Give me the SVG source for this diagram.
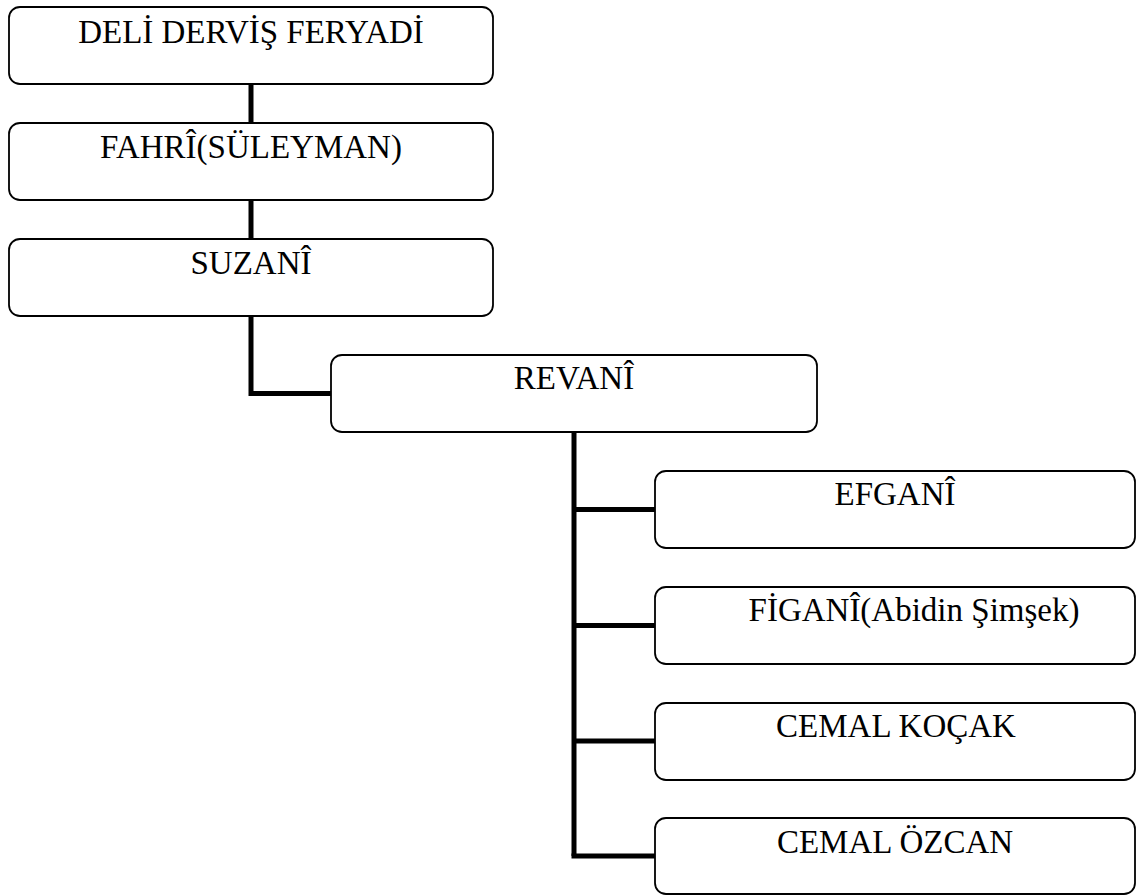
<svg xmlns="http://www.w3.org/2000/svg" width="1141" height="895" viewBox="0 0 1141 895">
<style>
.box{fill:#fff;stroke:#000;stroke-width:1.8}
.lbl{font-family:"Liberation Serif","Times New Roman",serif;font-size:33px;fill:#000;text-anchor:middle}
.conn{fill:none;stroke:#000;stroke-width:5}
</style>
<rect width="1141" height="895" fill="#fff"/>
<g id="connectors">
<path class="conn" d="M251 84V123"/>
<path class="conn" d="M251 200V239"/>
<path class="conn" d="M251 316V393.5H331"/>
<path class="conn" d="M574 432V856"/>
<path class="conn" d="M574 509.5H655"/>
<path class="conn" d="M574 625.5H655"/>
<path class="conn" d="M574 741H655"/>
<path class="conn" d="M571.5 856H655"/>
</g>
<g id="n1"><rect class="box" x="9" y="7" width="484" height="77" rx="11"/><text class="lbl" x="251" y="43">DELİ DERVİŞ FERYADİ</text></g>
<g id="n2"><rect class="box" x="9" y="123" width="484" height="77" rx="11"/><text class="lbl" x="251" y="158">FAHRÎ(SÜLEYMAN)</text></g>
<g id="n3"><rect class="box" x="9" y="239" width="484" height="77" rx="11"/><text class="lbl" x="251" y="274">SUZANÎ</text></g>
<g id="n4"><rect class="box" x="331" y="355" width="486" height="77" rx="11"/><text class="lbl" x="574" y="389">REVANÎ</text></g>
<g id="n5"><rect class="box" x="655" y="471" width="480" height="77" rx="11"/><text class="lbl" x="895" y="505">EFGANÎ</text></g>
<g id="n6"><rect class="box" x="655" y="587" width="480" height="77" rx="11"/><text class="lbl" x="914" y="621">FİGANÎ(Abidin Şimşek)</text></g>
<g id="n7"><rect class="box" x="655" y="703" width="480" height="77" rx="11"/><text class="lbl" x="896" y="737">CEMAL KOÇAK</text></g>
<g id="n8"><rect class="box" x="655" y="818" width="480" height="76" rx="11"/><text class="lbl" x="895" y="853">CEMAL ÖZCAN</text></g>
</svg>
